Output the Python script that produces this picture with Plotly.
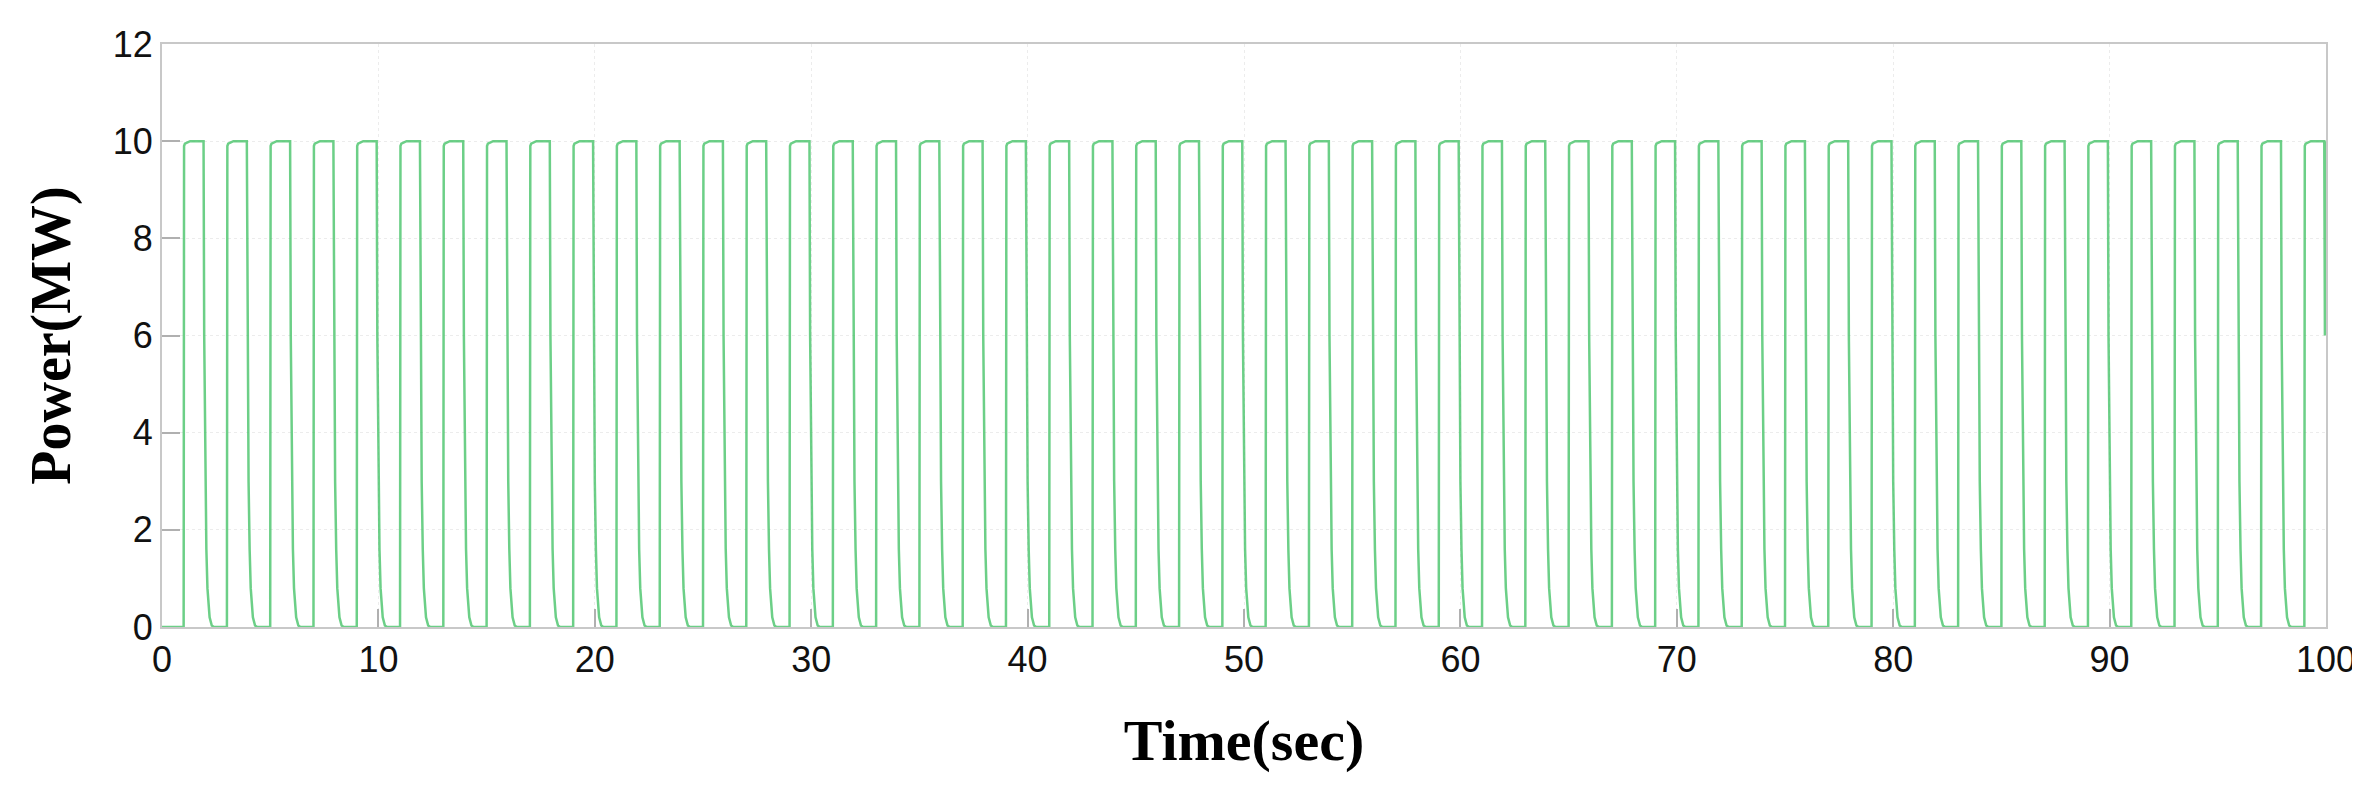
import plotly.graph_objects as go

# rise times of each pulse (sec)
pulse_starts = [1, 3, 5, 7, 9, 11, 13, 15, 17, 19, 21, 23, 25, 27, 29, 31, 33, 35, 37, 39,
                41, 43, 45, 47, 49, 51, 53, 55, 57, 59, 61, 63, 65, 67, 69, 71, 73, 75, 77, 79,
                81, 83, 85, 87, 89, 91, 93, 95, 97, 99]
# shape of one pulse: offset from rise (sec) and power (MW)
shape_dt = [0.0, 0.02, 0.06, 0.3, 0.92, 0.95, 1.0, 1.05, 1.1, 1.2, 1.3, 1.4]
shape_p = [0.0, 9.9, 9.95, 10.0, 10.0, 6.0, 3.0, 1.6, 0.8, 0.2, 0.03, 0.0]
end_time = 100.0
end_power = 10.0

x = [0.0]
y = [0.0]
for s in pulse_starts:
    for dt, p in zip(shape_dt, shape_p):
        t = s + dt
        if t < end_time:
            x.append(t)
            y.append(p)
x.append(end_time)
y.append(end_power)

fig = go.Figure(go.Scatter(x=x, y=y, mode="lines",
                           line=dict(color="#3cc060", width=2.5), opacity=0.75))

axis_common = dict(showline=True, linecolor="#c8c8c8", linewidth=2, mirror=True,
                   showgrid=True, gridcolor="#ececec", griddash="dot", gridwidth=1,
                   ticks="inside", tickcolor="#b0b0b0", ticklen=18, tickwidth=2,
                   zeroline=False,
                   tickfont=dict(family="Liberation Sans, Arial", size=36, color="#111"))
fig.update_xaxes(range=[0, 100], dtick=10, **axis_common,
                 title=dict(text="<b>Time(sec)</b>", standoff=40,
                            font=dict(family="Liberation Serif, Times New Roman", size=58, color="#000")))
fig.update_yaxes(range=[0, 12], dtick=2, **axis_common,
                 title=dict(text="<b>Power(MW)</b>", standoff=24,
                            font=dict(family="Liberation Serif, Times New Roman", size=56, color="#000")))
fig.update_layout(width=2360, height=786, plot_bgcolor="white", paper_bgcolor="white",
                  margin=dict(l=154, r=36, t=36, b=167), showlegend=False)
fig.write_html("out.html")
